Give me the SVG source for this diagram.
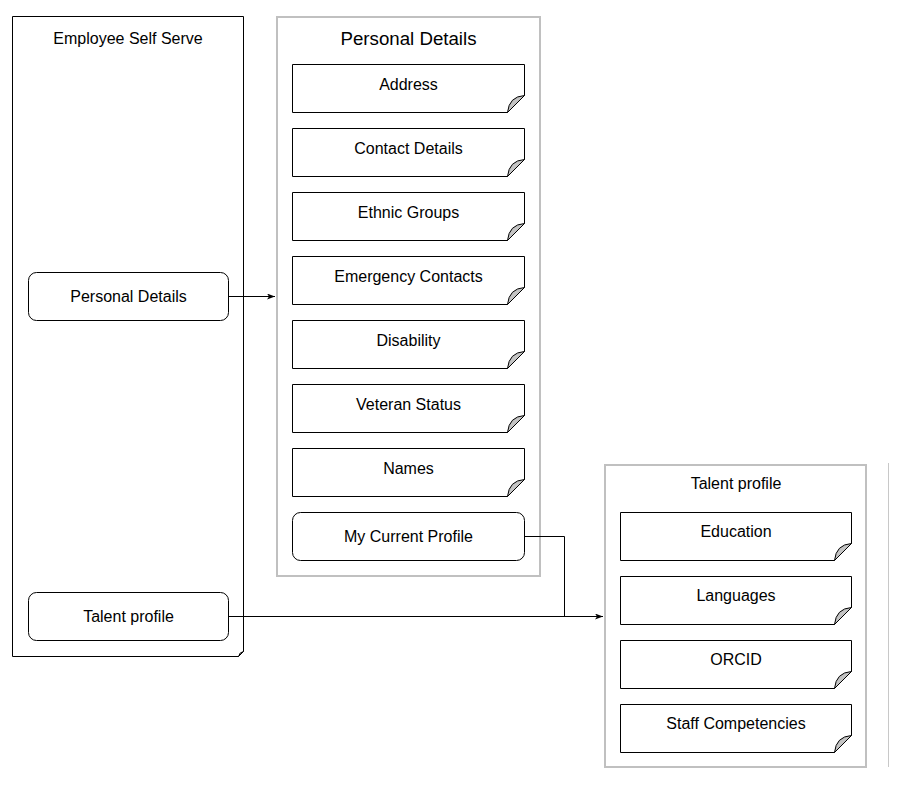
<svg xmlns="http://www.w3.org/2000/svg" width="909" height="790" viewBox="0 0 909 790">
  <defs>
    <marker id="arrow" markerWidth="8" markerHeight="6" refX="8" refY="3" orient="auto" markerUnits="userSpaceOnUse">
      <path d="M0,0 L8,3 L0,6 L2,3 Z" fill="#000"/>
    </marker>
    <style>
      .lbl { font-family: "Liberation Sans", Arial, sans-serif; font-size: 16px; fill: #000; text-anchor: middle; }
      .title { font-family: "Liberation Sans", Arial, sans-serif; font-size: 18.7px; fill: #000; text-anchor: middle; }
      .panel { fill: #fff; stroke: #c0c0c0; stroke-width: 2; }
      .card { fill: #fff; stroke: #000; stroke-width: 1; }
      .curl { fill: #c4c4c4; stroke: #000; stroke-width: 1; }
      .edge { fill: none; stroke: #000; stroke-width: 1; }
    </style>
  </defs>
  <rect width="909" height="790" fill="#fff"/>

  <!-- Employee Self Serve page -->
  <g id="employee-self-serve">
    <path class="card" d="M12.5,16.5 H243.5 V651.5 L238.5,656.5 H12.5 Z"/>
    <path class="curl" d="M243.5,651.5 Q239.5,652 238.5,656.5 Z"/>
    <text class="lbl" x="128" y="44">Employee Self Serve</text>
  </g>
  <g id="esm-personal-details">
    <rect class="card" x="28.5" y="272.5" width="200" height="48" rx="8"/>
    <text class="lbl" x="128.5" y="302">Personal Details</text>
  </g>
  <g id="esm-talent-profile">
    <rect class="card" x="28.5" y="592.5" width="200" height="48" rx="8"/>
    <text class="lbl" x="128.5" y="622">Talent profile</text>
  </g>

  <!-- Personal Details panel -->
  <g id="personal-details">
    <rect class="panel" x="277" y="17" width="263" height="559"/>
    <text class="title" x="408.5" y="45">Personal Details</text>
  </g>
  <g id="address">
    <path class="card" d="M292.5,64.5 H524.5 V95.5 L507.5,112.5 H292.5 Z"/>
    <path class="curl" d="M524.5,95.5 Q509,96.5 507.5,112.5 Z"/>
    <text class="lbl" x="408.5" y="90">Address</text>
  </g>
  <g id="contact-details">
    <path class="card" d="M292.5,128.5 H524.5 V159.5 L507.5,176.5 H292.5 Z"/>
    <path class="curl" d="M524.5,159.5 Q509,160.5 507.5,176.5 Z"/>
    <text class="lbl" x="408.5" y="154">Contact Details</text>
  </g>
  <g id="ethnic-groups">
    <path class="card" d="M292.5,192.5 H524.5 V223.5 L507.5,240.5 H292.5 Z"/>
    <path class="curl" d="M524.5,223.5 Q509,224.5 507.5,240.5 Z"/>
    <text class="lbl" x="408.5" y="218">Ethnic Groups</text>
  </g>
  <g id="emergency-contacts">
    <path class="card" d="M292.5,256.5 H524.5 V287.5 L507.5,304.5 H292.5 Z"/>
    <path class="curl" d="M524.5,287.5 Q509,288.5 507.5,304.5 Z"/>
    <text class="lbl" x="408.5" y="282">Emergency Contacts</text>
  </g>
  <g id="disability">
    <path class="card" d="M292.5,320.5 H524.5 V351.5 L507.5,368.5 H292.5 Z"/>
    <path class="curl" d="M524.5,351.5 Q509,352.5 507.5,368.5 Z"/>
    <text class="lbl" x="408.5" y="346">Disability</text>
  </g>
  <g id="veteran-status">
    <path class="card" d="M292.5,384.5 H524.5 V415.5 L507.5,432.5 H292.5 Z"/>
    <path class="curl" d="M524.5,415.5 Q509,416.5 507.5,432.5 Z"/>
    <text class="lbl" x="408.5" y="410">Veteran Status</text>
  </g>
  <g id="names">
    <path class="card" d="M292.5,448.5 H524.5 V479.5 L507.5,496.5 H292.5 Z"/>
    <path class="curl" d="M524.5,479.5 Q509,480.5 507.5,496.5 Z"/>
    <text class="lbl" x="408.5" y="474">Names</text>
  </g>
  <g id="my-current-profile">
    <rect class="card" x="292.5" y="512.5" width="232" height="48" rx="8"/>
    <text class="lbl" x="408.5" y="542">My Current Profile</text>
  </g>

  <!-- Talent profile panel -->
  <g id="talent-profile">
    <rect class="panel" x="605" y="465" width="261" height="302"/>
    <text class="lbl" x="736" y="489">Talent profile</text>
  </g>
  <g id="education">
    <path class="card" d="M620.5,512.5 H851.5 V543.5 L834.5,560.5 H620.5 Z"/>
    <path class="curl" d="M851.5,543.5 Q836,544.5 834.5,560.5 Z"/>
    <text class="lbl" x="736" y="537">Education</text>
  </g>
  <g id="languages">
    <path class="card" d="M620.5,576.5 H851.5 V607.5 L834.5,624.5 H620.5 Z"/>
    <path class="curl" d="M851.5,607.5 Q836,608.5 834.5,624.5 Z"/>
    <text class="lbl" x="736" y="601">Languages</text>
  </g>
  <g id="orcid">
    <path class="card" d="M620.5,640.5 H851.5 V671.5 L834.5,688.5 H620.5 Z"/>
    <path class="curl" d="M851.5,671.5 Q836,672.5 834.5,688.5 Z"/>
    <text class="lbl" x="736" y="665">ORCID</text>
  </g>
  <g id="staff-competencies">
    <path class="card" d="M620.5,704.5 H851.5 V735.5 L834.5,752.5 H620.5 Z"/>
    <path class="curl" d="M851.5,735.5 Q836,736.5 834.5,752.5 Z"/>
    <text class="lbl" x="736" y="729">Staff Competencies</text>
  </g>

  <!-- Divider -->
  <g id="divider">
    <line x1="888.5" y1="463" x2="888.5" y2="767" stroke="#c8c8c8" stroke-width="1"/>
  </g>

  <!-- Connectors -->
  <g id="connectors">
    <path class="edge" d="M228.5,296.5 H275" marker-end="url(#arrow)"/>
    <path class="edge" d="M228.5,616.5 H603" marker-end="url(#arrow)"/>
    <path class="edge" d="M524.5,536.5 H564.5 V616.5"/>
  </g>
</svg>
